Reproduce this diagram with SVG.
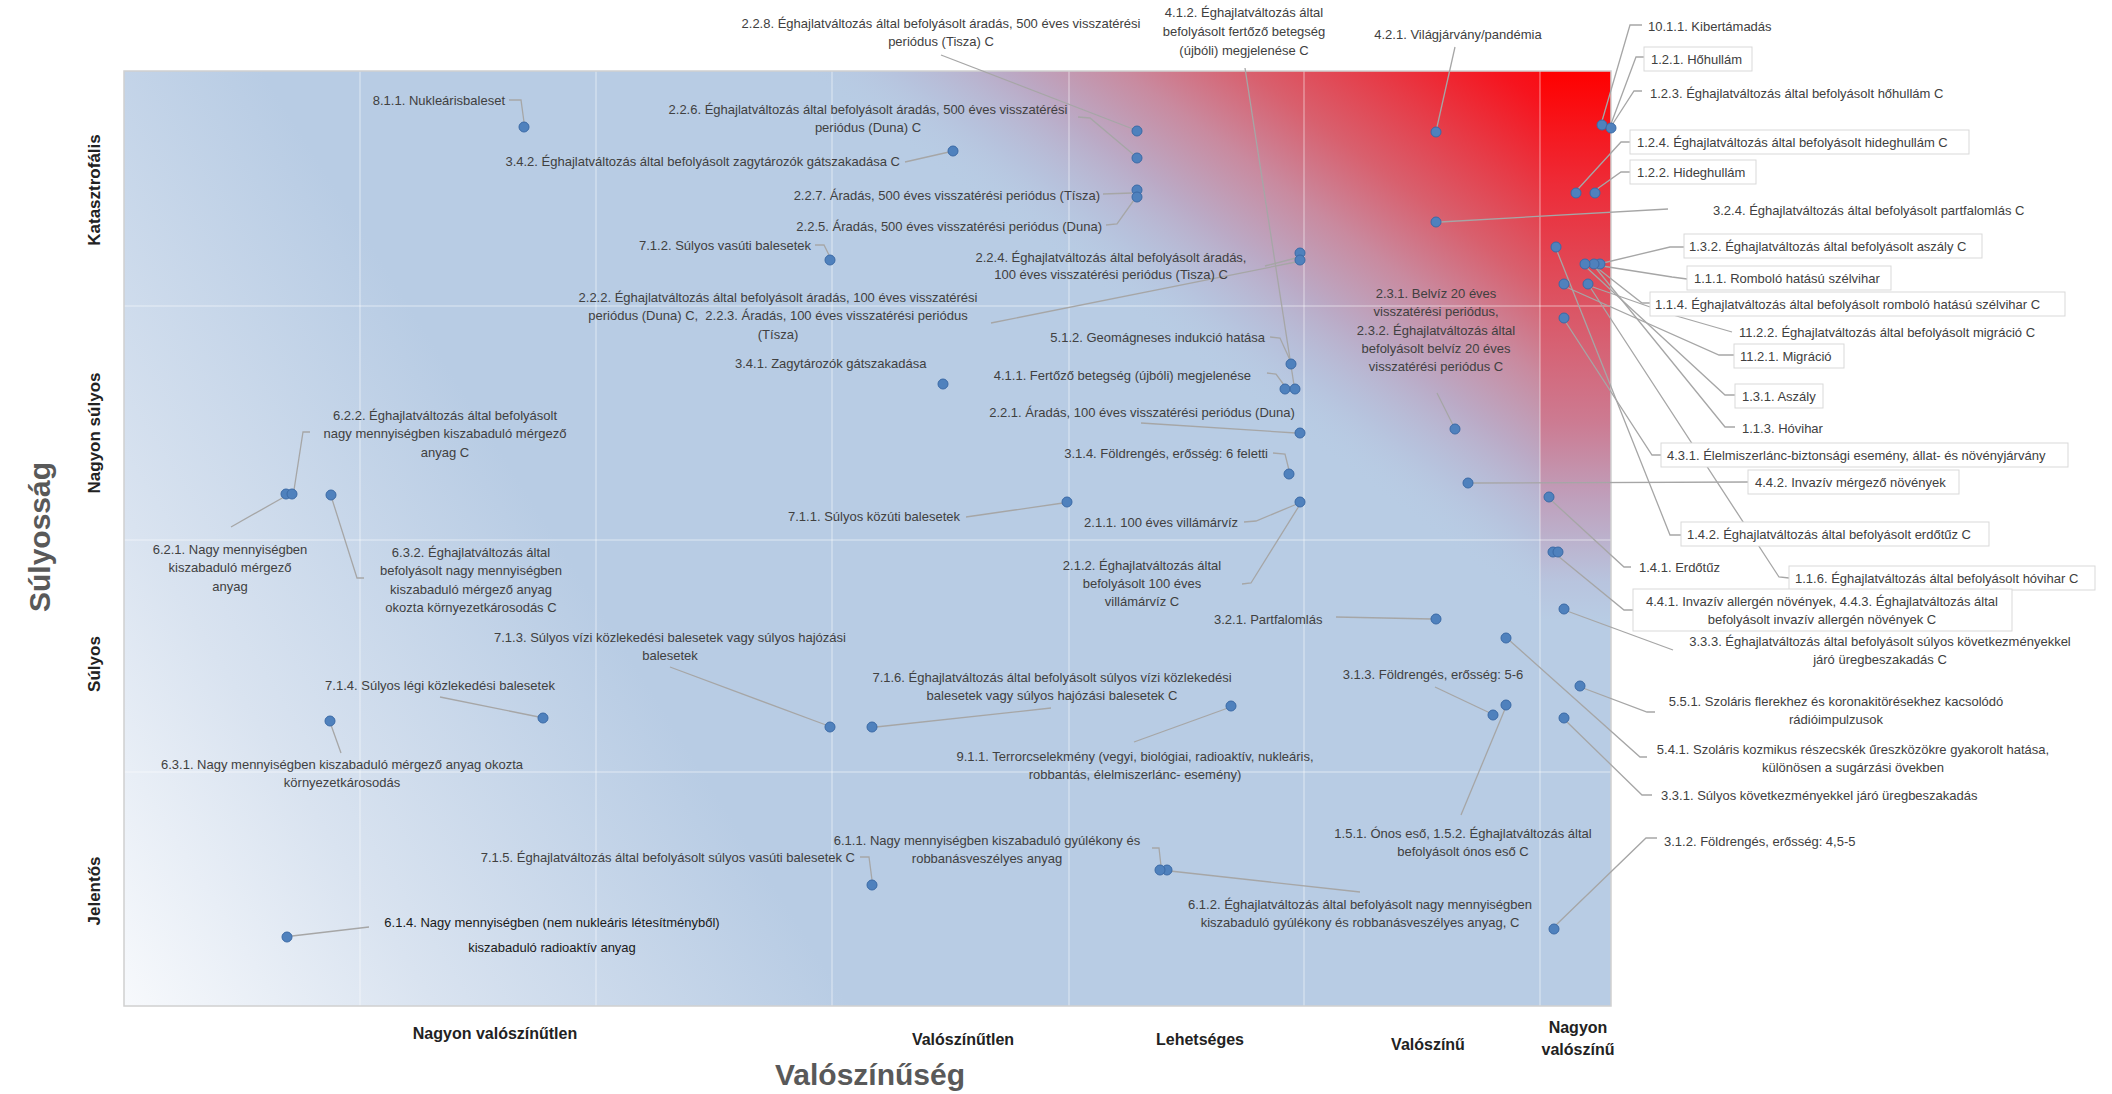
<svg xmlns="http://www.w3.org/2000/svg" width="2112" height="1094" viewBox="0 0 2112 1094">
<style>
.lbl{font-family:"Liberation Sans",Arial,sans-serif;font-size:13px;fill:#404040}
.mid{text-anchor:middle}
.end{text-anchor:end}
.dark{fill:#1a1a1a}
.dot{fill:#4f81bd;stroke:#3b6aa6;stroke-width:1}
.ld{fill:none;stroke:#a6a6a6;stroke-width:1.3}
.box{fill:#ffffff;stroke:#d9d9d9;stroke-width:1}
.grid{stroke:#ffffff;stroke-opacity:0.55;stroke-width:1}
.cat{font-family:"Liberation Sans",Arial,sans-serif;font-size:17px;font-weight:bold;fill:#222222}
.xcat{font-family:"Liberation Sans",Arial,sans-serif;font-size:16px;font-weight:bold;fill:#222222;text-anchor:middle}
.title{font-family:"Liberation Sans",Arial,sans-serif;font-size:30px;font-weight:bold;fill:#595959;text-anchor:middle}
</style>
<defs>
<linearGradient id="bgBlue" gradientUnits="userSpaceOnUse" x1="124" y1="1006" x2="1611" y2="71">
<stop offset="0" stop-color="#f7f9fc"/>
<stop offset="0.15" stop-color="#d9e3f0"/>
<stop offset="0.35" stop-color="#b8cce4"/>
<stop offset="1" stop-color="#b8cce4"/>
</linearGradient>
<linearGradient id="bgRed" gradientUnits="userSpaceOnUse" x1="1611" y1="71" x2="1327" y2="458">
<stop offset="0" stop-color="#ff0000"/>
<stop offset="0.14" stop-color="#f6141e"/>
<stop offset="0.3" stop-color="#e63c48"/>
<stop offset="0.45" stop-color="#d8606e"/>
<stop offset="0.6" stop-color="#c98a9f"/>
<stop offset="0.75" stop-color="#bba8c4" stop-opacity="0.95"/>
<stop offset="0.88" stop-color="#b6bcd8" stop-opacity="0.6"/>
<stop offset="1" stop-color="#b8cce4" stop-opacity="0"/>
</linearGradient>
<linearGradient id="colRed" gradientUnits="userSpaceOnUse" x1="0" y1="71" x2="0" y2="620">
<stop offset="0" stop-color="#ff0000"/>
<stop offset="0.2" stop-color="#ee2a36"/>
<stop offset="0.42" stop-color="#dc5362"/>
<stop offset="0.64" stop-color="#cc7b92"/>
<stop offset="0.78" stop-color="#bfa0bc"/>
<stop offset="0.93" stop-color="#b8c4de"/>
<stop offset="1" stop-color="#b8cce4"/>
</linearGradient>
</defs>
<rect width="2112" height="1094" fill="#ffffff"/>
<g id="plot-area">
<rect x="124" y="71" width="1487" height="935" fill="url(#bgBlue)"/>
<rect x="124" y="71" width="1487" height="935" fill="url(#bgRed)"/>
<rect x="1540" y="71" width="71" height="935" fill="url(#colRed)"/>
</g>
<g id="gridlines">
<line class="grid" x1="360" y1="71" x2="360" y2="1006"/>
<line class="grid" x1="596" y1="71" x2="596" y2="1006"/>
<line class="grid" x1="832" y1="71" x2="832" y2="1006"/>
<line class="grid" x1="1069" y1="71" x2="1069" y2="1006"/>
<line class="grid" x1="1304" y1="71" x2="1304" y2="1006"/>
<line class="grid" x1="1540" y1="71" x2="1540" y2="1006"/>
<line class="grid" x1="124" y1="306" x2="1611" y2="306"/>
<line class="grid" x1="124" y1="540" x2="1611" y2="540"/>
<line class="grid" x1="124" y1="772" x2="1611" y2="772"/>
<rect x="124" y="71" width="1487" height="935" fill="none" stroke="#d0d0d0" stroke-width="1.5"/>
</g>
<g id="axes">
<text class="cat" text-anchor="middle" transform="translate(100 190) rotate(-90)">Katasztrofális</text>
<text class="cat" text-anchor="middle" transform="translate(100 433) rotate(-90)">Nagyon súlyos</text>
<text class="cat" text-anchor="middle" transform="translate(100 664) rotate(-90)">Súlyos</text>
<text class="cat" text-anchor="middle" transform="translate(100 891) rotate(-90)">Jelentős</text>
<text class="title" transform="translate(50 537) rotate(-90)">Súlyosság</text>
<text class="xcat" x="495" y="1039">Nagyon valószínűtlen</text>
<text class="xcat" x="963" y="1045">Valószínűtlen</text>
<text class="xcat" x="1200" y="1045">Lehetséges</text>
<text class="xcat" x="1428" y="1050">Valószínű</text>
<text class="xcat" x="1578" y="1033">Nagyon</text>
<text class="xcat" x="1578" y="1055">valószínű</text>
<text class="title" x="870" y="1085">Valószínűség</text>
</g>
<g id="connectors">
<polyline class="ld" points="509,100 521,100 524,122"/>
<polyline class="ld" points="905,162 949,152"/>
<polyline class="ld" points="815,245 824,245 829,255"/>
<polyline class="ld" points="941,55 1133,129"/>
<polyline class="ld" points="1078,117 1090,118 1134,155"/>
<polyline class="ld" points="1103,194 1132,193"/>
<polyline class="ld" points="1106,225 1117,224 1134,200"/>
<polyline class="ld" points="1265,266 1296,258"/>
<polyline class="ld" points="991,323 1296,262"/>
<polyline class="ld" points="1245,68 1294,385"/>
<polyline class="ld" points="1455,47 1437,127"/>
<polyline class="ld" points="1642,25 1630,25 1602,121"/>
<polyline class="ld" points="1644,57 1636,57 1611,124"/>
<polyline class="ld" points="1642,91 1634,91 1612,125"/>
<polyline class="ld" points="1630,142 1621,142 1578,189"/>
<polyline class="ld" points="1630,172 1621,172 1597,189"/>
<polyline class="ld" points="1668,209 1440,222"/>
<polyline class="ld" points="1684,247 1670,247 1603,263"/>
<polyline class="ld" points="1687,279 1672,277 1602,266"/>
<polyline class="ld" points="1650,303 1642,303 1596,267"/>
<polyline class="ld" points="1732,332 1673,315 1590,286"/>
<polyline class="ld" points="1734,355 1719,355 1566,287"/>
<polyline class="ld" points="1735,395 1725,395 1586,267"/>
<polyline class="ld" points="1735,427 1725,427 1595,267"/>
<polyline class="ld" points="1661,455 1652,455 1565,321"/>
<polyline class="ld" points="1748,482 1472,483"/>
<polyline class="ld" points="1681,535 1670,535 1557,251"/>
<polyline class="ld" points="1789,578 1779,577 1590,287"/>
<polyline class="ld" points="1631,567 1624,567 1551,500"/>
<polyline class="ld" points="1633,610 1624,610 1558,556"/>
<polyline class="ld" points="1673,650 1567,611"/>
<polyline class="ld" points="1336,617 1432,619"/>
<polyline class="ld" points="1647,757 1640,757 1509,640"/>
<polyline class="ld" points="1655,712 1647,712 1583,688"/>
<polyline class="ld" points="1435,687 1490,713"/>
<polyline class="ld" points="1461,815 1505,709"/>
<polyline class="ld" points="1652,795 1642,795 1566,721"/>
<polyline class="ld" points="1657,838 1646,838 1556,925"/>
<polyline class="ld" points="1360,892 1170,871"/>
<polyline class="ld" points="1152,848 1159,848 1161,866"/>
<polyline class="ld" points="860,857 869,857 872,880"/>
<polyline class="ld" points="292,936 369,927"/>
<polyline class="ld" points="231,527 284,497"/>
<polyline class="ld" points="310,432 303,432 294,490"/>
<polyline class="ld" points="364,578 357,578 332,499"/>
<polyline class="ld" points="440,697 539,717"/>
<polyline class="ld" points="341,753 331,725"/>
<polyline class="ld" points="670,667 826,725"/>
<polyline class="ld" points="1051,708 876,727"/>
<polyline class="ld" points="1134,742 1228,708"/>
<polyline class="ld" points="1437,393 1453,425"/>
<polyline class="ld" points="1270,337 1280,338 1290,360"/>
<polyline class="ld" points="1267,373 1276,374 1284,385"/>
<polyline class="ld" points="1141,423 1296,433"/>
<polyline class="ld" points="1273,453 1285,454 1289,470"/>
<polyline class="ld" points="966,517 1063,503"/>
<polyline class="ld" points="1244,522 1256,521 1297,504"/>
<polyline class="ld" points="1242,584 1251,583 1299,506"/>
</g>
<g id="nodes">
<g id="n-8-1-1"><circle class="dot" cx="524" cy="127" r="5"/><text class="lbl end" x="505" y="105">8.1.1. Nukleárisbaleset</text></g>
<g id="n-3-4-2"><circle class="dot" cx="953" cy="151" r="5"/><text class="lbl end" x="900" y="166">3.4.2. Éghajlatváltozás által befolyásolt zagytározók gátszakadása C</text></g>
<g id="n-7-1-2"><circle class="dot" cx="830" cy="260" r="5"/><text class="lbl end" x="811" y="250">7.1.2. Súlyos vasúti balesetek</text></g>
<g id="n-2-2-8"><circle class="dot" cx="1137" cy="131" r="5"/><text class="lbl mid"><tspan x="941" y="28">2.2.8. Éghajlatváltozás által befolyásolt áradás, 500 éves visszatérési</tspan><tspan x="941" y="46">periódus (Tisza) C</tspan></text></g>
<g id="n-2-2-6"><circle class="dot" cx="1137" cy="158" r="5"/><text class="lbl mid"><tspan x="868" y="114">2.2.6. Éghajlatváltozás által befolyásolt áradás, 500 éves visszatérési</tspan><tspan x="868" y="132">periódus (Duna) C</tspan></text></g>
<g id="n-2-2-7"><circle class="dot" cx="1137" cy="190" r="5"/><text class="lbl end" x="1100" y="200">2.2.7. Áradás, 500 éves visszatérési periódus (Tísza)</text></g>
<g id="n-2-2-5"><circle class="dot" cx="1137" cy="197" r="5"/><text class="lbl end" x="1102" y="231">2.2.5. Áradás, 500 éves visszatérési periódus (Duna)</text></g>
<g id="n-2-2-4"><circle class="dot" cx="1300" cy="253" r="5"/><circle class="dot" cx="1300" cy="260" r="5"/><text class="lbl mid"><tspan x="1111" y="262">2.2.4. Éghajlatváltozás által befolyásolt áradás,</tspan><tspan x="1111" y="279">100 éves visszatérési periódus (Tisza) C</tspan></text></g>
<g id="n-2-2-2"><text class="lbl mid"><tspan x="778" y="302">2.2.2. Éghajlatváltozás által befolyásolt áradás, 100 éves visszatérési</tspan><tspan x="778" y="320">periódus (Duna) C,&#160; 2.2.3. Áradás, 100 éves visszatérési periódus</tspan><tspan x="778" y="339">(Tísza)</tspan></text></g>
<g id="n-4-1-2"><text class="lbl mid"><tspan x="1244" y="17">4.1.2. Éghajlatváltozás által</tspan><tspan x="1244" y="36">befolyásolt fertőző betegség</tspan><tspan x="1244" y="55">(újbóli) megjelenése C</tspan></text></g>
<g id="n-4-2-1"><circle class="dot" cx="1436" cy="132" r="5"/><text class="lbl mid" x="1458" y="39">4.2.1. Világjárvány/pandémia</text></g>
<g id="n-10-1-1"><circle class="dot" cx="1602" cy="125" r="5"/><text class="lbl" x="1648" y="31">10.1.1. Kibertámadás</text></g>
<g id="n-1-2-1"><circle class="dot" cx="1611" cy="128" r="5"/><rect class="box" x="1644" y="47" width="108" height="24"/><text class="lbl" x="1651" y="64">1.2.1. Hőhullám</text></g>
<g id="n-1-2-3"><text class="lbl" x="1650" y="98">1.2.3. Éghajlatváltozás által befolyásolt hőhullám C</text></g>
<g id="n-1-2-4"><circle class="dot" cx="1576" cy="193" r="5"/><rect class="box" x="1630" y="130" width="339" height="24"/><text class="lbl" x="1637" y="147">1.2.4. Éghajlatváltozás által befolyásolt hideghullám C</text></g>
<g id="n-1-2-2"><circle class="dot" cx="1595" cy="193" r="5"/><rect class="box" x="1630" y="160" width="126" height="24"/><text class="lbl" x="1637" y="177">1.2.2. Hideghullám</text></g>
<g id="n-3-2-4"><circle class="dot" cx="1436" cy="222" r="5"/><text class="lbl" x="1713" y="215">3.2.4. Éghajlatváltozás által befolyásolt partfalomlás C</text></g>
<g id="n-1-3-2"><circle class="dot" cx="1600" cy="264" r="5"/><rect class="box" x="1684" y="234" width="298" height="24"/><text class="lbl" x="1689" y="251">1.3.2. Éghajlatváltozás által befolyásolt aszály C</text></g>
<g id="n-1-1-1"><rect class="box" x="1687" y="266" width="204" height="24"/><text class="lbl" x="1694" y="283">1.1.1. Romboló hatású szélvihar</text></g>
<g id="n-1-1-4"><circle class="dot" cx="1594" cy="264" r="5"/><rect class="box" x="1650" y="292" width="415" height="24"/><text class="lbl" x="1655" y="309">1.1.4. Éghajlatváltozás által befolyásolt romboló hatású szélvihar C</text></g>
<g id="n-11-2-2"><circle class="dot" cx="1588" cy="284" r="5"/><text class="lbl" x="1739" y="337">11.2.2. Éghajlatváltozás által befolyásolt migráció C</text></g>
<g id="n-11-2-1"><circle class="dot" cx="1564" cy="284" r="5"/><rect class="box" x="1734" y="344" width="110" height="24"/><text class="lbl" x="1740" y="361">11.2.1. Migráció</text></g>
<g id="n-1-3-1"><circle class="dot" cx="1585" cy="264" r="5"/><rect class="box" x="1735" y="384" width="88" height="24"/><text class="lbl" x="1742" y="401">1.3.1. Aszály</text></g>
<g id="n-1-1-3"><text class="lbl" x="1742" y="433">1.1.3. Hóvihar</text></g>
<g id="n-4-3-1"><circle class="dot" cx="1564" cy="318" r="5"/><rect class="box" x="1661" y="443" width="407" height="24"/><text class="lbl" x="1667" y="460">4.3.1. Élelmiszerlánc-biztonsági esemény, állat- és növényjárvány</text></g>
<g id="n-4-4-2"><circle class="dot" cx="1468" cy="483" r="5"/><rect class="box" x="1748" y="470" width="211" height="24"/><text class="lbl" x="1755" y="487">4.4.2. Invazív mérgező növények</text></g>
<g id="n-1-4-2"><circle class="dot" cx="1556" cy="247" r="5"/><rect class="box" x="1681" y="522" width="308" height="24"/><text class="lbl" x="1687" y="539">1.4.2. Éghajlatváltozás által befolyásolt erdőtűz C</text></g>
<g id="n-1-1-6"><rect class="box" x="1789" y="566" width="306" height="24"/><text class="lbl" x="1795" y="583">1.1.6. Éghajlatváltozás által befolyásolt hóvihar C</text></g>
<g id="n-1-4-1"><circle class="dot" cx="1549" cy="497" r="5"/><text class="lbl" x="1639" y="572">1.4.1. Erdőtűz</text></g>
<g id="n-4-4-1"><circle class="dot" cx="1553" cy="552" r="5"/><circle class="dot" cx="1558" cy="552" r="5"/><rect class="box" x="1633" y="589" width="379" height="42"/><text class="lbl mid"><tspan x="1822" y="606">4.4.1. Invazív allergén növények, 4.4.3. Éghajlatváltozás által</tspan><tspan x="1822" y="624">befolyásolt invazív allergén növények C</tspan></text></g>
<g id="n-3-3-3"><circle class="dot" cx="1564" cy="609" r="5"/><text class="lbl mid"><tspan x="1880" y="646">3.3.3. Éghajlatváltozás által befolyásolt súlyos következményekkel</tspan><tspan x="1880" y="664">járó üregbeszakadás C</tspan></text></g>
<g id="n-3-2-1"><circle class="dot" cx="1436" cy="619" r="5"/><text class="lbl" x="1214" y="624">3.2.1. Partfalomlás</text></g>
<g id="n-5-4-1"><circle class="dot" cx="1506" cy="638" r="5"/><text class="lbl mid"><tspan x="1853" y="754">5.4.1. Szoláris kozmikus részecskék űreszközökre gyakorolt hatása,</tspan><tspan x="1853" y="772">különösen a sugárzási övekben</tspan></text></g>
<g id="n-5-5-1"><circle class="dot" cx="1580" cy="686" r="5"/><text class="lbl mid"><tspan x="1836" y="706">5.5.1. Szoláris flerekhez és koronakitörésekhez kacsolódó</tspan><tspan x="1836" y="724">rádióimpulzusok</tspan></text></g>
<g id="n-3-1-3"><circle class="dot" cx="1493" cy="715" r="5"/><text class="lbl mid" x="1433" y="679">3.1.3. Földrengés, erősség: 5-6</text></g>
<g id="n-1-5-1"><circle class="dot" cx="1506" cy="705" r="5"/><text class="lbl mid"><tspan x="1463" y="838">1.5.1. Ónos eső, 1.5.2. Éghajlatváltozás által</tspan><tspan x="1463" y="856">befolyásolt ónos eső C</tspan></text></g>
<g id="n-3-3-1"><circle class="dot" cx="1564" cy="718" r="5"/><text class="lbl" x="1661" y="800">3.3.1. Súlyos következményekkel járó üregbeszakadás</text></g>
<g id="n-3-1-2"><circle class="dot" cx="1554" cy="929" r="5"/><text class="lbl" x="1664" y="846">3.1.2. Földrengés, erősség: 4,5-5</text></g>
<g id="n-6-1-2"><circle class="dot" cx="1167" cy="870" r="5"/><text class="lbl mid"><tspan x="1360" y="909">6.1.2. Éghajlatváltozás által befolyásolt nagy mennyiségben</tspan><tspan x="1360" y="927">kiszabaduló gyúlékony és robbanásveszélyes anyag, C</tspan></text></g>
<g id="n-6-1-1"><circle class="dot" cx="1160" cy="870" r="5"/><text class="lbl mid"><tspan x="987" y="845">6.1.1. Nagy mennyiségben kiszabaduló gyúlékony és</tspan><tspan x="987" y="863">robbanásveszélyes anyag</tspan></text></g>
<g id="n-7-1-5"><circle class="dot" cx="872" cy="885" r="5"/><text class="lbl end" x="855" y="862">7.1.5. Éghajlatváltozás által befolyásolt súlyos vasúti balesetek C</text></g>
<g id="n-6-1-4"><circle class="dot" cx="287" cy="937" r="5"/><text class="lbl mid dark"><tspan x="552" y="927">6.1.4. Nagy mennyiségben (nem nukleáris létesítményből)</tspan><tspan x="552" y="952">kiszabaduló radioaktív anyag</tspan></text></g>
<g id="n-6-2-1"><circle class="dot" cx="286" cy="494" r="5"/><text class="lbl mid"><tspan x="230" y="554">6.2.1. Nagy mennyiségben</tspan><tspan x="230" y="572">kiszabaduló mérgező</tspan><tspan x="230" y="591">anyag</tspan></text></g>
<g id="n-6-2-2"><circle class="dot" cx="292" cy="494" r="5"/><text class="lbl mid"><tspan x="445" y="420">6.2.2. Éghajlatváltozás által befolyásolt</tspan><tspan x="445" y="438">nagy mennyiségben kiszabaduló mérgező</tspan><tspan x="445" y="457">anyag C</tspan></text></g>
<g id="n-6-3-2"><circle class="dot" cx="331" cy="495" r="5"/><text class="lbl mid"><tspan x="471" y="557">6.3.2. Éghajlatváltozás által</tspan><tspan x="471" y="575">befolyásolt nagy mennyiségben</tspan><tspan x="471" y="594">kiszabaduló mérgező anyag</tspan><tspan x="471" y="612">okozta környezetkárosodás C</tspan></text></g>
<g id="n-7-1-4"><circle class="dot" cx="543" cy="718" r="5"/><text class="lbl mid" x="440" y="690">7.1.4. Súlyos légi közlekedési balesetek</text></g>
<g id="n-6-3-1"><circle class="dot" cx="330" cy="721" r="5"/><text class="lbl mid"><tspan x="342" y="769">6.3.1. Nagy mennyiségben kiszabaduló mérgező anyag okozta</tspan><tspan x="342" y="787">környezetkárosodás</tspan></text></g>
<g id="n-7-1-3"><circle class="dot" cx="830" cy="727" r="5"/><text class="lbl mid"><tspan x="670" y="642">7.1.3. Súlyos vízi közlekedési balesetek vagy súlyos hajózási</tspan><tspan x="670" y="660">balesetek</tspan></text></g>
<g id="n-7-1-6"><circle class="dot" cx="872" cy="727" r="5"/><text class="lbl mid"><tspan x="1052" y="682">7.1.6. Éghajlatváltozás által befolyásolt súlyos vízi közlekedési</tspan><tspan x="1052" y="700">balesetek vagy súlyos hajózási balesetek C</tspan></text></g>
<g id="n-9-1-1"><circle class="dot" cx="1231" cy="706" r="5"/><text class="lbl mid"><tspan x="1135" y="761">9.1.1. Terrorcselekmény (vegyi, biológiai, radioaktív, nukleáris,</tspan><tspan x="1135" y="779">robbantás, élelmiszerlánc- esemény)</tspan></text></g>
<g id="n-2-3-1"><circle class="dot" cx="1455" cy="429" r="5"/><text class="lbl mid"><tspan x="1436" y="298">2.3.1. Belvíz 20 éves</tspan><tspan x="1436" y="316">visszatérési periódus,</tspan><tspan x="1436" y="335">2.3.2. Éghajlatváltozás által</tspan><tspan x="1436" y="353">befolyásolt belvíz 20 éves</tspan><tspan x="1436" y="371">visszatérési periódus C</tspan></text></g>
<g id="n-5-1-2"><circle class="dot" cx="1291" cy="364" r="5"/><text class="lbl end" x="1265" y="342">5.1.2. Geomágneses indukció hatása</text></g>
<g id="n-3-4-1"><circle class="dot" cx="943" cy="384" r="5"/><text class="lbl" x="735" y="368">3.4.1. Zagytározók gátszakadása</text></g>
<g id="n-4-1-1"><circle class="dot" cx="1285" cy="389" r="5"/><circle class="dot" cx="1295" cy="389" r="5"/><text class="lbl end" x="1251" y="380">4.1.1. Fertőző betegség (újbóli) megjelenése</text></g>
<g id="n-2-2-1"><circle class="dot" cx="1300" cy="433" r="5"/><text class="lbl mid" x="1142" y="417">2.2.1. Áradás, 100 éves visszatérési periódus (Duna)</text></g>
<g id="n-3-1-4"><circle class="dot" cx="1289" cy="474" r="5"/><text class="lbl end" x="1268" y="458">3.1.4. Földrengés, erősség: 6 feletti</text></g>
<g id="n-7-1-1"><circle class="dot" cx="1067" cy="502" r="5"/><text class="lbl end" x="960" y="521">7.1.1. Súlyos közúti balesetek</text></g>
<g id="n-2-1-1"><circle class="dot" cx="1300" cy="502" r="5"/><text class="lbl end" x="1238" y="527">2.1.1. 100 éves villámárvíz</text></g>
<g id="n-2-1-2"><text class="lbl mid"><tspan x="1142" y="570">2.1.2. Éghajlatváltozás által</tspan><tspan x="1142" y="588">befolyásolt 100 éves</tspan><tspan x="1142" y="606">villámárvíz C</tspan></text></g>
</g>
</svg>
